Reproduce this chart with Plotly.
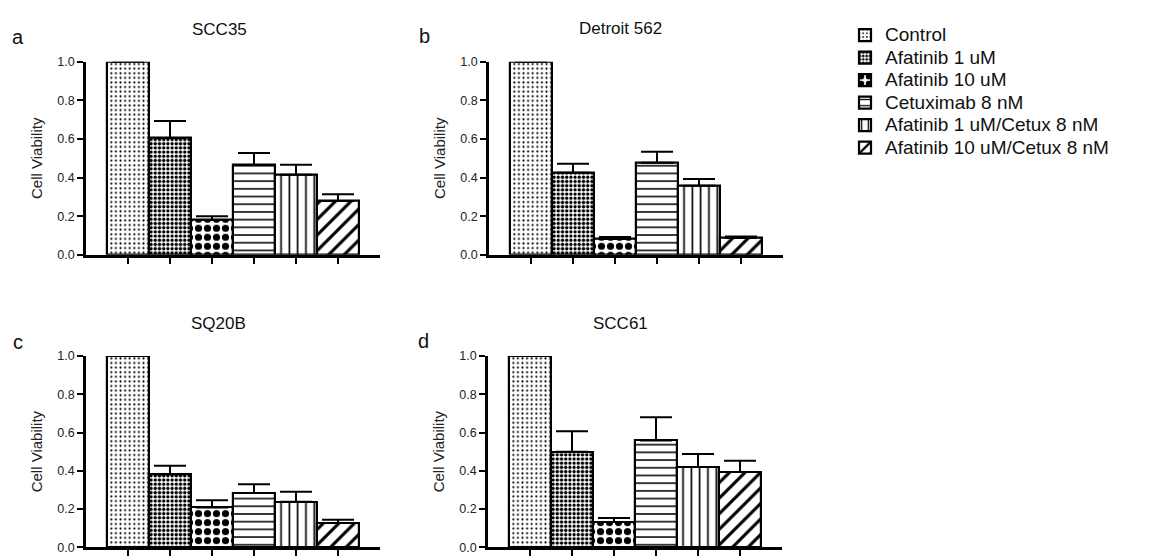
import plotly.graph_objects as go

# Reference canvas is 1150x560; the page body adds an 8px offset, so the
# figure itself is 8px smaller and every pixel position is shifted by 8.
REF_W, REF_H = 1150, 560
OFF = 8
W, H = REF_W - OFF, REF_H - OFF

treatments = ["Control", "Afatinib 1 uM", "Afatinib 10 uM", "Cetuximab 8 nM",
              "Afatinib 1 uM/Cetux 8 nM", "Afatinib 10 uM/Cetux 8 nM"]

panel_titles = ["SCC35", "Detroit 562", "SQ20B", "SCC61"]
panel_letters = ["a", "b", "c", "d"]

scc35_mean = [1.00, 0.605, 0.180, 0.465, 0.415, 0.278]
scc35_err = [0.0, 0.088, 0.020, 0.062, 0.052, 0.036]

detroit562_mean = [1.00, 0.425, 0.082, 0.477, 0.357, 0.087]
detroit562_err = [0.0, 0.046, 0.010, 0.057, 0.035, 0.008]

sq20b_mean = [1.00, 0.380, 0.208, 0.284, 0.238, 0.127]
sq20b_err = [0.0, 0.046, 0.037, 0.045, 0.052, 0.016]

scc61_mean = [1.00, 0.500, 0.131, 0.558, 0.419, 0.394]
scc61_err = [0.0, 0.107, 0.022, 0.122, 0.068, 0.058]

y_ticks = [0.0, 0.2, 0.4, 0.6, 0.8, 1.0]
y_tick_text = ["0.0", "0.2", "0.4", "0.6", "0.8", "1.0"]

means = [scc35_mean, detroit562_mean, sq20b_mean, scc61_mean]
errs = [scc35_err, detroit562_err, sq20b_err, scc61_err]

patterns = [
    dict(shape=".", size=4.6, solidity=0.16),
    dict(shape=".", size=4.2, solidity=0.5),
    dict(shape=".", size=9.0, solidity=0.5),
    dict(shape="-", size=7.7, solidity=0.2),
    dict(shape="|", size=8.3, solidity=0.2),
    dict(shape="/", size=11, solidity=0.28),
]

FONT = "Liberation Sans, Arial, Helvetica, sans-serif"

def px_x(p):
    return (p - OFF) / W

def px_y(p):
    return (REF_H - p) / H

# plot-area boxes in reference pixels: (x0, x1, ytop, ybottom)
boxes = [(86, 380, 56, 254), (489, 783, 56, 254),
         (86, 380, 358, 554), (488, 782, 358, 554)]

fig = go.Figure()

for p in range(4):
    ax = "" if p == 0 else str(p + 1)
    for i, t in enumerate(treatments):
        fig.add_trace(go.Bar(
            x=[t], y=[means[p][i]],
            width=[1.0],
            name='<span style="font-size:19px">' + t + '</span>',
            legendgroup=t,
            showlegend=(p == 0),
            xaxis="x" + ax, yaxis="y" + ax,
            marker=dict(color="white",
                        line=dict(color="black", width=2.2),
                        pattern=dict(fgcolor="black", bgcolor="white",
                                     fillmode="replace", **patterns[i])),
            error_y=dict(type="data", symmetric=False,
                         array=[errs[p][i]], arrayminus=[0],
                         color="black", thickness=2, width=16),
            cliponaxis=False,
        ))

layout = dict(
    width=W, height=H,
    margin=dict(l=0, r=0, t=0, b=0),
    paper_bgcolor="white", plot_bgcolor="white",
    barmode="overlay", bargap=0,
    font=dict(family=FONT, color="#111"),
    showlegend=True,
    legend=dict(x=px_x(845), y=px_y(12), xanchor="left", yanchor="top",
                font=dict(size=15, family=FONT, color="#111"),
                bgcolor="rgba(0,0,0,0)", tracegroupgap=0),
)

for p in range(4):
    x0, x1, yt, yb = boxes[p]
    ax = "" if p == 0 else str(p + 1)
    layout["xaxis" + ax] = dict(
        domain=[px_x(x0), px_x(x1)], anchor="y" + ax,
        categoryorder="array", categoryarray=treatments,
        range=[-1, 6], showticklabels=False,
        ticks="outside", ticklen=6, tickwidth=2, tickcolor="black",
        showline=True, linewidth=2.5, linecolor="black",
        showgrid=False, zeroline=False, fixedrange=True,
    )
    layout["yaxis" + ax] = dict(
        domain=[px_y(yb), px_y(yt)], anchor="x" + ax,
        range=[0, 1.0], tickvals=y_ticks, ticktext=y_tick_text,
        ticks="outside", ticklen=6, tickwidth=2, tickcolor="black",
        tickfont=dict(size=12.5, family=FONT, color="#222"),
        showline=True, linewidth=2.5, linecolor="black",
        showgrid=False, zeroline=False, fixedrange=True,
        title=dict(text="Cell Viability", standoff=12,
                   font=dict(size=15, family=FONT, color="#222")),
    )

fig.update_layout(**layout)

title_pos = [(219, 23), (620, 22), (218, 325), (620, 325)]
letter_pos = [(18, 31), (424, 30), (18, 343), (423, 342)]
for p in range(4):
    tx, ty = title_pos[p]
    fig.add_annotation(text=panel_titles[p], x=px_x(tx), y=px_y(ty),
                       xref="paper", yref="paper", showarrow=False,
                       xanchor="center", yanchor="middle",
                       font=dict(size=17, family=FONT, color="#111"))
    lx, ly = letter_pos[p]
    fig.add_annotation(text=panel_letters[p], x=px_x(lx), y=px_y(ly),
                       xref="paper", yref="paper", showarrow=False,
                       xanchor="center", yanchor="middle",
                       font=dict(size=20, family=FONT, color="#111"))

fig.write_html("out.html")
